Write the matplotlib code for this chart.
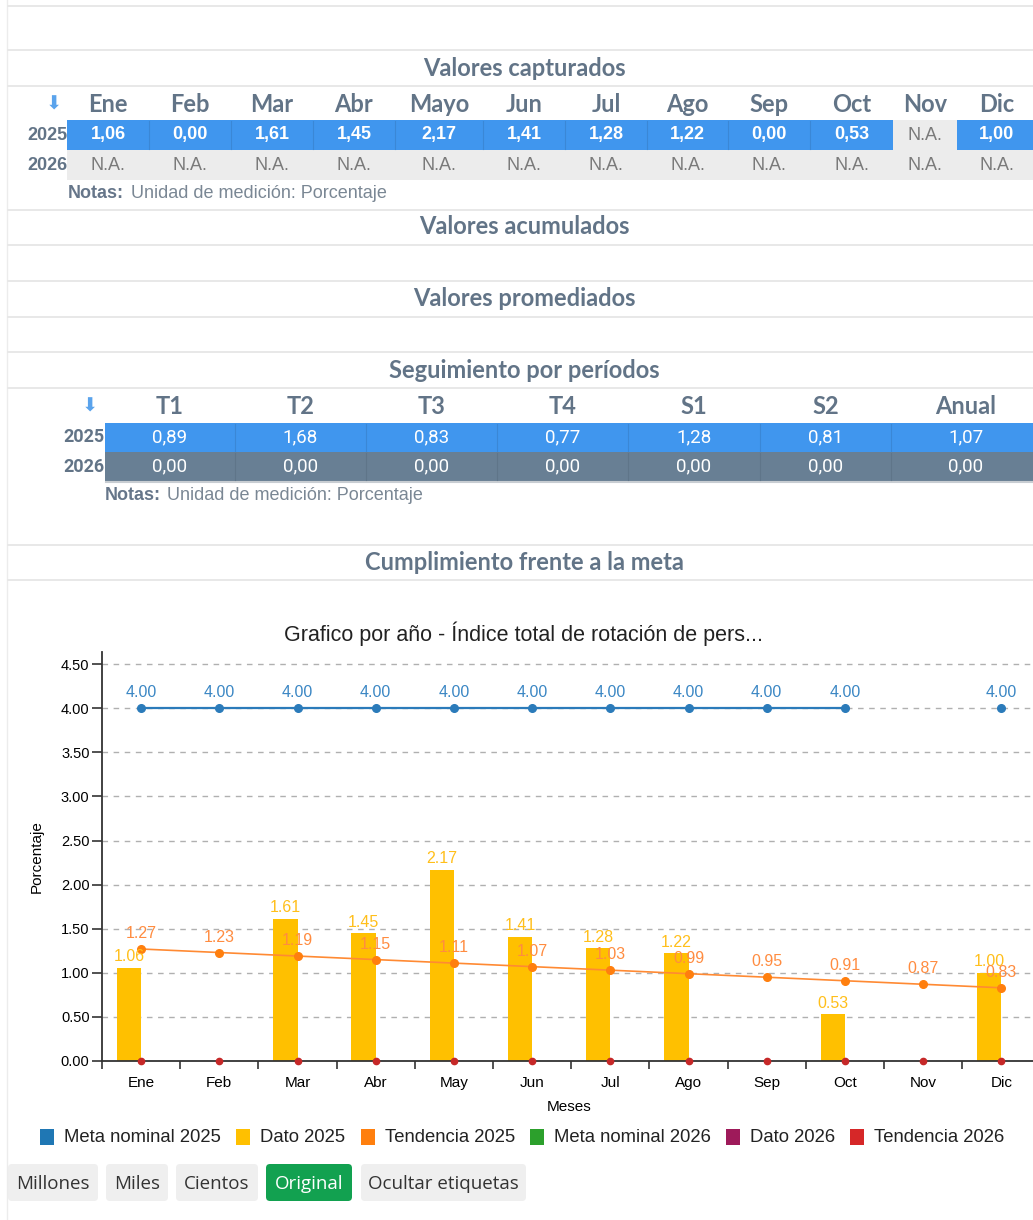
import numpy as np
import matplotlib
matplotlib.use("Agg")
import matplotlib.pyplot as plt
from matplotlib.patches import Rectangle, FancyBboxPatch

W, H = 1033, 1220

# ---- data -----------------------------------------------------------------
table_months = ["Ene", "Feb", "Mar", "Abr", "Mayo", "Jun", "Jul", "Ago", "Sep", "Oct", "Nov", "Dic"]
captured_2025 = [1.06, 0.00, 1.61, 1.45, 2.17, 1.41, 1.28, 1.22, 0.00, 0.53, None, 1.00]
captured_2026 = [None] * 12

periods = ["T1", "T2", "T3", "T4", "S1", "S2", "Anual"]
period_2025 = [0.89, 1.68, 0.83, 0.77, 1.28, 0.81, 1.07]
period_2026 = [0.00, 0.00, 0.00, 0.00, 0.00, 0.00, 0.00]

chart_months = ["Ene", "Feb", "Mar", "Abr", "May", "Jun", "Jul", "Ago", "Sep", "Oct", "Nov", "Dic"]
meta_2025 = [4.00, 4.00, 4.00, 4.00, 4.00, 4.00, 4.00, 4.00, 4.00, 4.00, np.nan, 4.00]
dato_2025 = [1.06, 0.00, 1.61, 1.45, 2.17, 1.41, 1.28, 1.22, 0.00, 0.53, np.nan, 1.00]
tendencia_2025 = [1.27, 1.23, 1.19, 1.15, 1.11, 1.07, 1.03, 0.99, 0.95, 0.91, 0.87, 0.83]
dato_2026 = [0, 0, 0, 0, 0, 0, 0, 0, 0, 0, 0, 0]
tendencia_2026 = [0, 0, 0, 0, 0, 0, 0, 0, 0, 0, 0, 0]

legend_labels = ["Meta nominal 2025", "Dato 2025", "Tendencia 2025",
                 "Meta nominal 2026", "Dato 2026", "Tendencia 2026"]
legend_colors = ["#1f77b4", "#ffc000", "#ff7f0e", "#2ca02c", "#9e1a5a", "#d62728"]
buttons = ["Millones", "Miles", "Cientos", "Original", "Ocultar etiquetas"]

# ---- layout (pixels) --------------------------------------------------------
HEAD = "#627487"
BLUE = "#4096ee"
LIGHT = "#ececec"
SLATE = "#687f94"
t1_edges = [67, 149, 231, 313, 395, 483, 565, 647, 728, 810, 893, 957, 1040]
t2_edges = [105, 235, 366, 497, 628, 760, 891, 1040]

fig = plt.figure(figsize=(W / 100, H / 100), dpi=100)
pg = fig.add_axes([0, 0, 1, 1])
pg.set_xlim(0, W)
pg.set_ylim(H, 0)
pg.axis("off")

TITLE_FONT = dict(family="Lato", weight="bold", color=HEAD, fontsize=17)
NOTE_FONT = dict(ha="left", va="center", fontsize=13, family="Liberation Sans")


def hline(y):
    pg.plot([8, W], [y, y], color="#e8e8e8", lw=1.4)


def box(x0, y0, x1, y1, color):
    pg.add_patch(Rectangle((x0, y0), x1 - x0, y1 - y0, color=color, lw=0))


def fmt(v):
    return f"{v:.2f}".replace(".", ",")


pg.plot([7, 7], [0, H], color="#ececec", lw=1)
hline(6)

# Valores capturados
hline(50)
hline(86)
pg.text(524, 68, "Valores capturados", ha="center", va="center", **TITLE_FONT)
pg.text(54, 104, "\u2b07", ha="center", va="center", fontsize=14, color="#5aa3ec", family="DejaVu Sans")
for i, m in enumerate(table_months):
    cx = (t1_edges[i] + t1_edges[i + 1]) / 2
    if i == 11:
        cx = 997
    pg.text(cx, 104, m, ha="center", va="center", **TITLE_FONT)
    v = captured_2025[i]
    x0, x1 = t1_edges[i], t1_edges[i + 1]
    if v is None:
        box(x0, 120, x1, 150, LIGHT)
        pg.text(cx, 135, "N.A.", ha="center", va="center", fontsize=13,
                color="#7a7a7a", family="Liberation Sans")
    else:
        box(x0, 120, x1, 150, BLUE)
        if i > 0 and captured_2025[i - 1] is not None:
            pg.plot([x0, x0], [121, 149], color="#3a87d6", lw=0.8)
        pg.text(cx, 135, fmt(v), ha="center", va="center", fontsize=13,
                color="white", weight="bold", family="Liberation Sans")
    box(x0, 150, x1, 180, LIGHT)
    pg.text(cx, 165, "N.A." if captured_2026[i] is None else fmt(captured_2026[i]),
            ha="center", va="center", fontsize=13, color="#7a7a7a", family="Liberation Sans")
pg.text(67, 135, "2025", ha="right", va="center", fontsize=13, weight="bold",
        color=HEAD, family="Liberation Sans")
pg.text(67, 165, "2026", ha="right", va="center", fontsize=13, weight="bold",
        color=HEAD, family="Liberation Sans")
pg.text(68, 193, "Notas:", weight="bold", color="#66768a", **NOTE_FONT)
pg.text(131, 193, "Unidad de medición: Porcentaje", color="#7a8794", **NOTE_FONT)
hline(210)

# Valores acumulados / promediados
pg.text(524, 227, "Valores acumulados", ha="center", va="center", **TITLE_FONT)
hline(245)
hline(281)
pg.text(524, 298, "Valores promediados", ha="center", va="center", **TITLE_FONT)
hline(317)

# Seguimiento por periodos
hline(352)
pg.text(524, 370, "Seguimiento por períodos", ha="center", va="center", **TITLE_FONT)
hline(388)
pg.text(90, 406, "\u2b07", ha="center", va="center", fontsize=14, color="#5aa3ec", family="DejaVu Sans")
box(105, 423, W, 452, BLUE)
box(105, 452, W, 481, SLATE)
pg.plot([106, W], [482, 482], color="#c8cdd2", lw=1.5)
for i, p in enumerate(periods):
    x0, x1 = t2_edges[i], t2_edges[i + 1]
    cx = (x0 + x1) / 2 if i < 6 else 966
    if i > 0:
        pg.plot([x0, x0], [424, 451], color="#3a87d6", lw=0.8)
        pg.plot([x0, x0], [453, 480], color="#5f7589", lw=0.8)
    pg.text(cx, 406, p, ha="center", va="center", **TITLE_FONT)
    pg.text(cx, 437.5, fmt(period_2025[i]), ha="center", va="center", fontsize=13.5,
            color="white", family="Roboto")
    pg.text(cx, 466.5, fmt(period_2026[i]), ha="center", va="center", fontsize=13.5,
            color="white", family="Roboto")
pg.text(104, 437.5, "2025", ha="right", va="center", fontsize=13, weight="bold",
        color=HEAD, family="Roboto")
pg.text(104, 466.5, "2026", ha="right", va="center", fontsize=13, weight="bold",
        color=HEAD, family="Roboto")
pg.text(105, 496, "Notas:", weight="bold", color="#66768a", **NOTE_FONT)
pg.text(167, 496, "Unidad de medición: Porcentaje", color="#7a8794", **NOTE_FONT)

# Cumplimiento
hline(545)
pg.text(524, 563, "Cumplimiento frente a la meta", ha="center", va="center", **TITLE_FONT)
hline(580)

# ---- chart ----------------------------------------------------------------
x_left, x_right = 102, 1040.4
y_bottom, y_top = 1061, 651.8
ax = fig.add_axes([x_left / W, (H - y_bottom) / H, (x_right - x_left) / W, (y_bottom - y_top) / H])
ax.patch.set_alpha(0)
x = np.arange(len(chart_months))
bw = 0.31
ax.set_xlim(-0.5, 11.5)
ax.set_ylim(0, 4.64)

ax.bar(x - bw / 2, dato_2025, width=bw, color="#ffc000", zorder=2)
ax.bar(x + bw / 2, dato_2026, width=bw, color="#9e1a5a", zorder=2)
ax.plot(x, meta_2025, color="#2b7bba", lw=1.6, marker="o", ms=5.5, zorder=3)
ax.plot(x, tendencia_2025, color="#ff8a33", lw=1.2, marker="o", ms=5.5,
        markerfacecolor="#ff7f0e", markeredgecolor="#ff7f0e", zorder=3)
ax.plot(x, tendencia_2026, color="#c62828", lw=0, marker="o", ms=4.5, zorder=5, clip_on=False)

lbl = dict(ha="center", va="center", fontsize=11.5, family="Liberation Sans",
           textcoords="offset points")
for i in range(len(x)):
    if not np.isnan(meta_2025[i]):
        ax.annotate(f"{meta_2025[i]:.2f}", (x[i], meta_2025[i]), xytext=(0, 11),
                    color="#3b87c4", **lbl)
    if not np.isnan(dato_2025[i]) and dato_2025[i] > 0:
        ax.annotate(f"{dato_2025[i]:.2f}", (x[i] - bw / 2, dato_2025[i]), xytext=(0, 8),
                    color="#ffbf1a", **lbl)
    ax.annotate(f"{tendencia_2025[i]:.2f}", (x[i], tendencia_2025[i]), xytext=(0, 11),
                color="#ff8c40", **lbl)

ax.set_yticks(np.arange(0, 4.51, 0.5))
ax.set_yticklabels([f"{v:.2f}" for v in np.arange(0, 4.51, 0.5)], family="Liberation Sans", fontsize=10.5)
ax.set_xticks(x)
ax.set_xticklabels(chart_months, family="Liberation Sans", fontsize=11)
ax.set_xticks(np.arange(-0.5, 12, 1), minor=True)
ax.tick_params(axis="x", which="major", length=0, pad=11)
ax.tick_params(axis="x", which="minor", length=6, width=1.2, color="#333")
ax.tick_params(axis="y", length=7, width=1.2, color="#333", pad=2)
ax.grid(axis="y", color="#b0b0b0", ls=(0, (4, 4)), lw=1, zorder=0)
for s in ["top", "right"]:
    ax.spines[s].set_visible(False)
ax.spines["left"].set_color("#333")
ax.spines["bottom"].set_color("#333")
ax.spines["left"].set_linewidth(1.3)
ax.spines["bottom"].set_linewidth(1.3)
ax.set_ylabel("Porcentaje", family="Liberation Sans", fontsize=11, labelpad=12)
ax.set_xlabel("Meses", family="Liberation Sans", fontsize=11)
ax.xaxis.set_label_coords((569 - x_left) / (x_right - x_left), -0.095)

pg.text(524, 634, "Grafico por año - Índice total de rotación de pers...", ha="center",
        va="center", fontsize=15.5, color="#222", family="Liberation Sans")

# legend
leg_x = [40, 236, 361, 530, 726, 850]
for lx, name, col in zip(leg_x, legend_labels, legend_colors):
    box(lx, 1129, lx + 14, 1145, col)
    pg.text(lx + 24, 1137, name, ha="left", va="center", fontsize=13.3,
            color="#222", family="Liberation Sans")

# buttons
btn_x = [(8, 98), (106, 168), (176, 258), (266, 352), (361, 526)]
for (b0, b1), name in zip(btn_x, buttons):
    on = name == "Original"
    pg.add_patch(FancyBboxPatch((b0 + 3, 1167), b1 - b0 - 6, 31,
                                boxstyle="round,pad=3,rounding_size=4",
                                fc="#12a150" if on else "#efefef", ec="none"))
    pg.text((b0 + b1) / 2, 1184, name, ha="center", va="center", fontsize=13.5,
            color="white" if on else "#333", family="Open Sans")

fig.savefig("out.png", dpi=100)
